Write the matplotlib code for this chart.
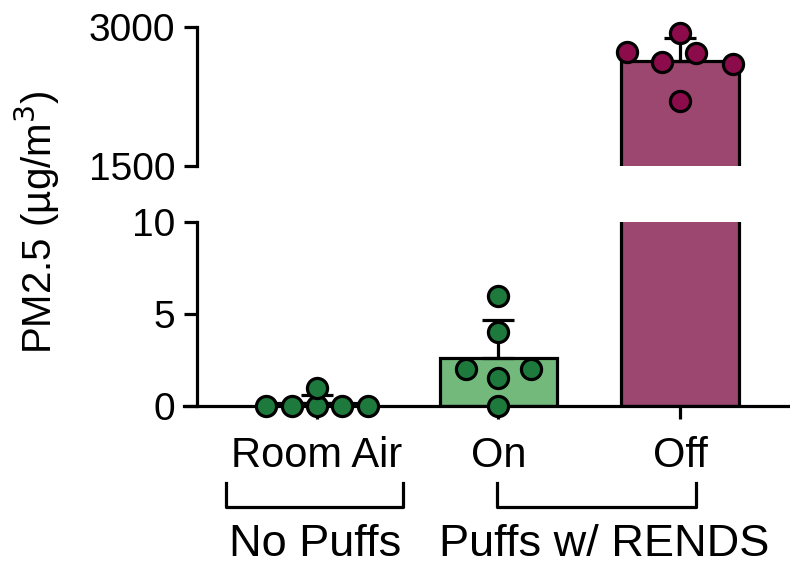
import numpy as np
import matplotlib
matplotlib.use("Agg")
import matplotlib.pyplot as plt
from matplotlib.transforms import blended_transform_factory
from matplotlib.lines import Line2D

plt.rcParams['font.family'] = ['Liberation Sans', 'DejaVu Sans']

categories = ['Room Air', 'On', 'Off']
groups = ['No Puffs', 'Puffs w/ RENDS']
room_air = [0, 0, 0, 1, 0, 0]
rends_on = [6, 4, 2, 1.5, 2, 0]
rends_off = [2935, 2730, 2622, 2720, 2600, 2200]

# horizontal spread of the dots (layout only)
room_dx = [-0.28, -0.14, 0.0, 0.0, 0.14, 0.28]
on_dx = [0.0, 0.0, -0.18, 0.0, 0.18, 0.0]
off_dx = [0.0, -0.29, -0.10, 0.09, 0.29, 0.0]

values = [room_air, rends_on, rends_off]
means = [np.mean(v) for v in values]
sds = [np.std(v, ddof=1) for v in values]

bar_colors = ['#74b97c', '#74b97c', '#9b4770']
dot_colors = ['#1d7a3c', '#1d7a3c', '#8c0c4b']

LW = 2.3
W, H = 790, 567
fig = plt.figure(figsize=(W / 100, H / 100), dpi=100)

left = 197 / W
ax_lo = fig.add_axes([left, 1 - 406 / H, 1 - left, (406 - 222) / H])
ax_hi = fig.add_axes([left, 1 - 166 / H, 1 - left, (166 - 27) / H])

x = np.arange(len(categories))
for ax in (ax_lo, ax_hi):
    ax.bar(x, means, width=0.645, color=bar_colors, edgecolor='black',
           linewidth=LW, zorder=1)
    ax.errorbar(x, means, yerr=[np.zeros(3), sds], fmt='none', ecolor='black',
                elinewidth=LW, capsize=11.5, capthick=LW, zorder=2)
    ax.set_xlim(-0.661, 2.606)
    for s in ['top', 'right']:
        ax.spines[s].set_visible(False)
    for s in ['left', 'bottom']:
        ax.spines[s].set_linewidth(LW)
    ax.tick_params(axis='y', length=9.5, width=LW, labelsize=28, pad=6)

def dots(ax, i, vals, dx):
    ax.scatter(np.array(dx) + i, vals, s=210, color=dot_colors[i],
               edgecolor='black', linewidth=2.3, zorder=3, clip_on=False)

dots(ax_lo, 0, room_air, room_dx)
dots(ax_lo, 1, rends_on, on_dx)
dots(ax_hi, 2, rends_off, off_dx)

ax_lo.set_ylim(0, 10)
ax_lo.set_yticks([0, 5, 10])
ax_lo.set_xticks(x)
ax_lo.set_xticklabels(categories, fontsize=30)
ax_lo.tick_params(axis='x', length=9.5, width=LW, pad=12)
ax_lo.spines['bottom'].set_bounds(-0.735, 2.606)

ax_hi.set_ylim(1500, 3000)
ax_hi.set_yticks([1500, 3000])
ax_hi.spines['bottom'].set_visible(False)
ax_hi.set_xticks([])

fig.text(37 / W, 1 - 222 / H, 'PM2.5 (µg/m$^3$)', rotation=90, fontsize=29,
         ha='center', va='center')

# group brackets under the category labels
tr = blended_transform_factory(ax_lo.transData, fig.transFigure)
y_top, y_bot = 1 - 483 / H, 1 - 507 / H
for x0, x1, label, xc in [(-0.5, 0.475, groups[0], -0.01),
                          (0.99, 2.09, groups[1], 1.58)]:
    fig.add_artist(Line2D([x0, x0, x1, x1], [y_top, y_bot, y_bot, y_top],
                          transform=tr, color='black', linewidth=LW))
    fig.text(xc, 1 - 545 / H, label, transform=tr, fontsize=32.5,
             ha='center', va='center')

fig.savefig('out.png', dpi=100)
